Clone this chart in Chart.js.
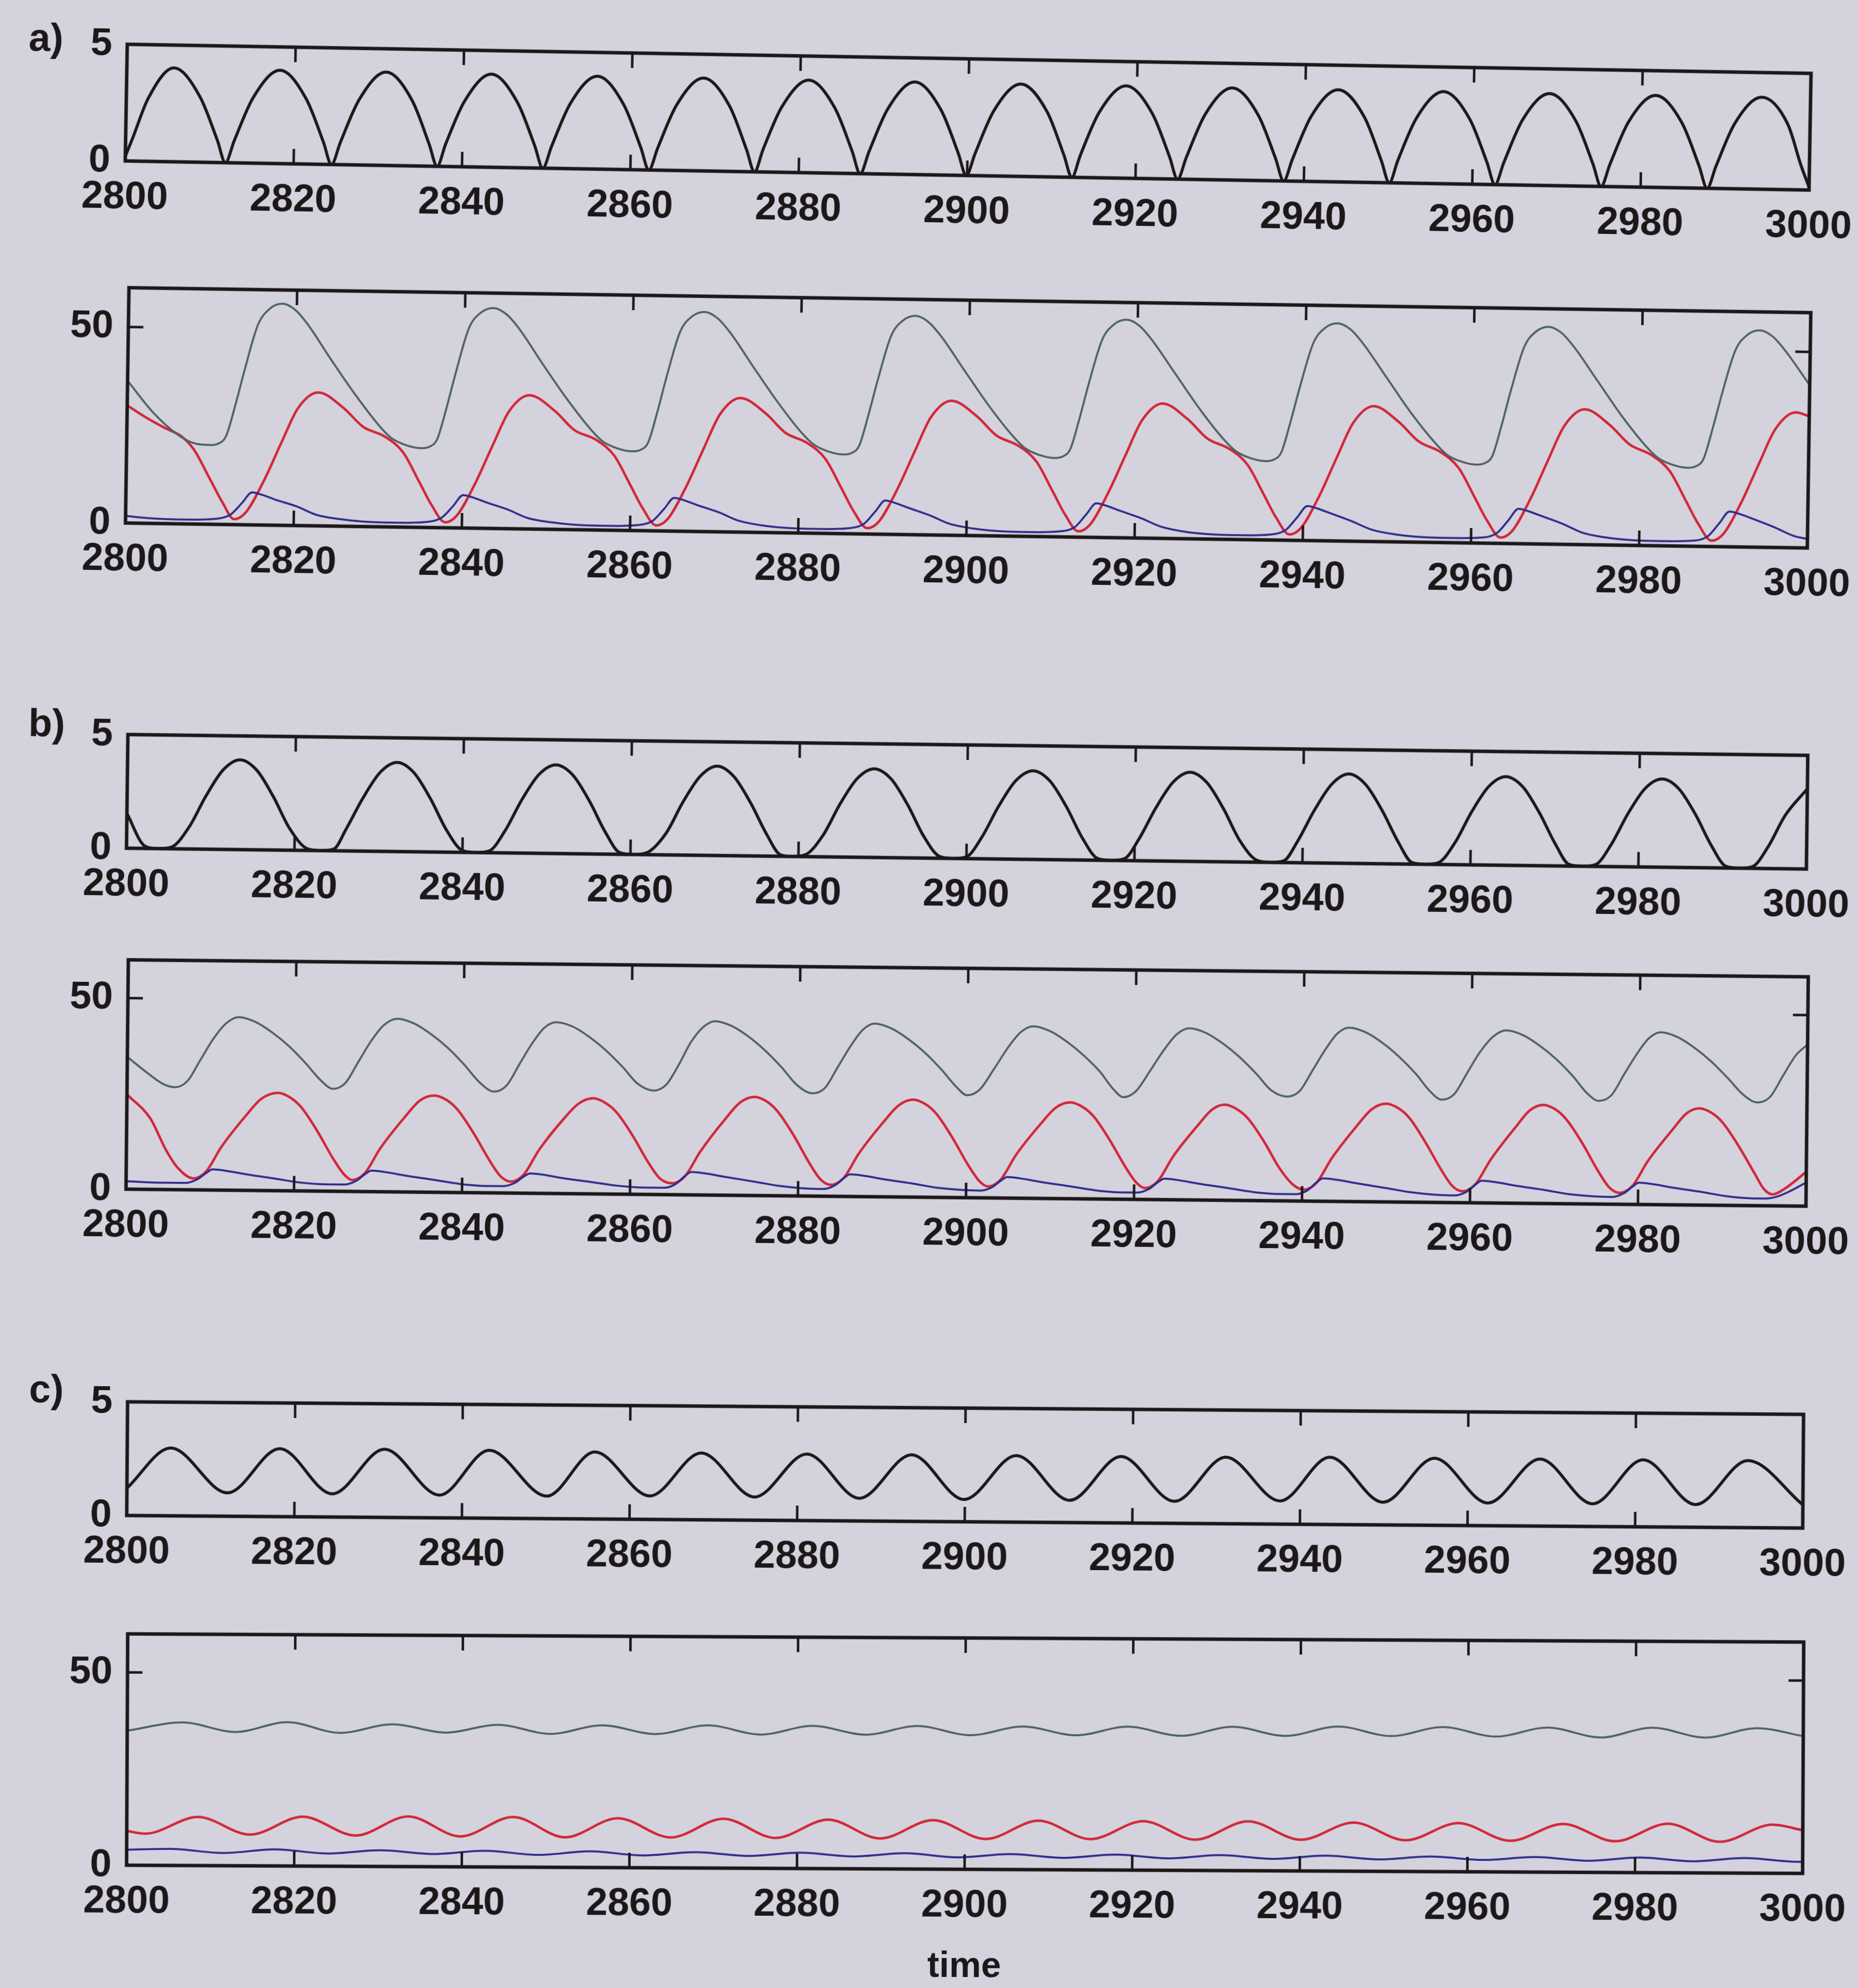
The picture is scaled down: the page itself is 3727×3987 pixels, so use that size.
<!DOCTYPE html>
<html>
<head>
<meta charset="utf-8">
<script src="https://cdn.jsdelivr.net/npm/chart.js@4.4.1/dist/chart.umd.min.js"></script>
<style>
  html, body { margin: 0; padding: 0; width: 3727px; height: 3987px; overflow: hidden; background: #d4d3dd; }
  canvas.panel { position: absolute; }
</style>
</head>
<body>
<script>
// ---- time axis and tick labels ----
const timeTicks = [2800, 2820, 2840, 2860, 2880, 2900, 2920, 2940, 2960, 2980, 3000];
const smallTicks = [0, 5];
const largeTicks = [0, 50];

// ---- a) upper trace ----
const a1Black = [
[2800,0.2],[2800.8,0.95],[2802.6,2.7],[2805.6,4.02],[2808.75,2.8],[2810.9,0.95],[2811.9,0],
[2812.9,0.95],[2815.05,2.8],[2818.2,4.0],[2821.35,2.8],[2823.5,0.95],[2824.5,0],
[2825.5,0.95],[2827.65,2.8],[2830.8,4.0],[2833.95,2.8],[2836.05,0.95],[2837.05,0],
[2838.0,0.95],[2840.15,2.8],[2843.3,3.99],[2846.45,2.8],[2848.6,0.95],[2849.6,0],
[2850.6,0.95],[2852.75,2.8],[2855.9,3.98],[2859.05,2.8],[2861.2,0.95],[2862.2,0],
[2863.2,0.95],[2865.35,2.8],[2868.5,3.98],[2871.65,2.8],[2873.75,0.95],[2874.75,0],
[2875.7,0.95],[2877.85,2.8],[2881.0,3.97],[2884.15,2.8],[2886.3,0.95],[2887.3,0],
[2888.3,0.95],[2890.45,2.8],[2893.6,3.97],[2896.75,2.8],[2898.9,0.95],[2899.9,0],
[2900.9,0.95],[2903.05,2.8],[2906.2,3.96],[2909.35,2.8],[2911.45,0.95],[2912.45,0],
[2913.4,0.95],[2915.55,2.8],[2918.7,3.96],[2921.85,2.8],[2924.0,0.95],[2925.0,0],
[2926.0,0.95],[2928.15,2.8],[2931.3,3.95],[2934.45,2.8],[2936.6,0.95],[2937.6,0],
[2938.6,0.95],[2940.75,2.8],[2943.9,3.95],[2947.05,2.8],[2949.15,0.95],[2950.15,0],
[2951.1,0.95],[2953.25,2.8],[2956.4,3.95],[2959.55,2.8],[2961.7,0.95],[2962.7,0],
[2963.7,0.95],[2965.85,2.8],[2969.0,3.94],[2972.15,2.8],[2974.3,0.95],[2975.3,0],
[2976.3,0.95],[2978.45,2.8],[2981.6,3.94],[2984.75,2.8],[2986.9,0.95],[2987.9,0],
[2988.9,0.95],[2991.05,2.8],[2994.2,3.94],[2997.35,2.8],[2999.0,1.05],[3000,0.12]
];

// ---- a) lower traces ----
const a2Gray = [
[2800,36.3],[2803.0,28.5],[2806.0,22.8],[2808.0,20.6],[2809.9,20.2],
[2810.9,20.6],[2811.8,22.5],[2812.8,30.0],[2813.9,39.5],[2815.4,51.0],[2816.8,55.2],[2818.3,56.5],[2819.8,55.0],[2821.3,51.4],[2824.2,42.3],[2827.2,33.3],[2830.1,25.5],[2831.5,22.6],[2833.1,21.0],[2835.0,20.2],
[2836.0,20.6],[2836.9,22.5],[2837.9,30.0],[2839.0,39.5],[2840.5,51.0],[2841.9,55.0],[2843.4,56.2],[2844.9,54.7],[2846.4,51.2],[2849.3,42.2],[2852.3,33.2],[2855.2,25.5],[2856.6,22.6],[2858.2,21.0],[2860.1,20.2],
[2861.1,20.6],[2862.0,22.5],[2863.0,30.0],[2864.1,39.5],[2865.6,50.8],[2867.0,54.8],[2868.5,56.0],[2870.0,54.5],[2871.5,51.0],[2874.4,42.1],[2877.4,33.1],[2880.3,25.4],[2881.7,22.6],[2883.3,21.0],[2885.2,20.2],
[2886.2,20.6],[2887.1,22.5],[2888.1,30.0],[2889.2,39.4],[2890.7,50.6],[2892.1,54.6],[2893.6,55.8],[2895.1,54.3],[2896.6,50.8],[2899.5,42.0],[2902.5,33.0],[2905.4,25.4],[2906.8,22.5],[2908.4,20.9],[2910.3,20.1],
[2911.3,20.5],[2912.2,22.4],[2913.2,29.9],[2914.3,39.3],[2915.8,50.4],[2917.2,54.4],[2918.7,55.6],[2920.2,54.1],[2921.7,50.6],[2924.6,41.9],[2927.6,32.9],[2930.5,25.3],[2931.9,22.5],[2933.5,20.9],[2935.4,20.1],
[2936.4,20.5],[2937.3,22.4],[2938.3,29.9],[2939.4,39.2],[2940.9,50.3],[2942.3,54.3],[2943.8,55.5],[2945.3,54.0],[2946.8,50.5],[2949.7,41.8],[2952.7,32.8],[2955.6,25.3],[2957.0,22.4],[2958.6,20.8],[2960.5,20.0],
[2961.5,20.4],[2962.4,22.3],[2963.4,29.8],[2964.5,39.2],[2966.0,50.2],[2967.4,54.2],[2968.9,55.4],[2970.4,53.9],[2971.9,50.4],[2974.8,41.7],[2977.8,32.7],[2980.7,25.2],[2982.1,22.4],[2983.7,20.8],[2985.6,20.0],
[2986.6,20.4],[2987.5,22.3],[2988.5,29.8],[2989.6,39.1],[2991.1,50.1],[2992.5,54.1],[2994.0,55.3],[2995.5,53.8],[2997.0,50.3],[3000,41.5]
];
const a2Red = [
[2800,30.0],[2802.4,26.8],[2804.6,24.3],[2806.5,22.3],[2808.0,19.0],[2810.0,11.4],[2811.5,5.6],[2812.9,1.4],
[2814.3,3.2],[2816.4,11.4],[2818.4,21.1],[2820.3,29.9],[2822.7,34.0],[2825.7,30.2],[2828.1,25.4],[2830.7,23.0],[2832.9,19.0],[2834.9,11.4],[2836.4,5.6],[2838.0,1.4],
[2839.4,3.2],[2841.5,11.4],[2843.5,21.1],[2845.4,29.9],[2847.8,34.1],[2850.8,30.3],[2853.2,25.4],[2855.8,23.0],[2858.0,19.0],[2860.0,11.4],[2861.5,5.6],[2863.1,1.4],
[2864.5,3.2],[2866.6,11.4],[2868.6,21.1],[2870.5,30.0],[2872.9,34.2],[2875.9,30.4],[2878.3,25.5],[2880.9,23.0],[2883.1,19.0],[2885.1,11.4],[2886.6,5.6],[2888.2,1.5],
[2889.6,3.3],[2891.7,11.5],[2893.7,21.2],[2895.6,30.1],[2898.0,34.3],[2901.0,30.5],[2903.4,25.6],[2906.0,23.1],[2908.2,19.1],[2910.2,11.5],[2911.7,5.7],[2913.3,1.5],
[2914.7,3.3],[2916.8,11.5],[2918.8,21.2],[2920.7,30.1],[2923.1,34.4],[2926.1,30.5],[2928.5,25.6],[2931.1,23.1],[2933.3,19.1],[2935.3,11.5],[2936.8,5.7],[2938.4,1.5],
[2939.8,3.3],[2941.9,11.5],[2943.9,21.3],[2945.8,30.2],[2948.2,34.5],[2951.2,30.6],[2953.6,25.7],[2956.2,23.1],[2958.4,19.1],[2960.4,11.5],[2961.9,5.7],[2963.5,1.5],
[2964.9,3.3],[2967.0,11.5],[2969.0,21.3],[2970.9,30.2],[2973.3,34.5],[2976.3,30.6],[2978.7,25.7],[2981.3,23.1],[2983.5,19.1],[2985.5,11.5],[2987.0,5.7],[2988.6,1.5],
[2990.0,3.3],[2992.1,11.5],[2994.1,21.3],[2996.0,30.2],[2998.4,34.5],[3000,33.6]
];
const a2Blue = [
[2800,1.8],[2803.0,1.3],[2807.0,1.1],[2811.0,1.5],[2812.5,2.6],[2813.8,5.5],[2815.0,8.3],[2816.2,7.7],[2817.8,6.5],[2820.3,4.9],[2822.7,2.8],[2825.5,1.8],[2828.0,1.3],[2832.0,1.1],
[2836.1,1.5],[2837.6,2.6],[2838.9,5.5],[2840.1,8.4],[2841.3,7.8],[2842.9,6.6],[2845.4,4.9],[2847.8,2.8],[2850.6,1.8],[2853.1,1.3],[2857.1,1.1],
[2861.2,1.5],[2862.7,2.6],[2864.0,5.6],[2865.2,8.5],[2866.4,7.9],[2868.0,6.7],[2870.5,5.0],[2872.9,2.9],[2875.7,1.8],[2878.2,1.3],[2882.2,1.1],
[2886.3,1.5],[2887.8,2.6],[2889.1,5.7],[2890.3,8.6],[2891.5,8.0],[2893.1,6.8],[2895.6,5.0],[2898.0,2.9],[2900.8,1.8],[2903.3,1.3],[2907.3,1.1],
[2911.4,1.5],[2912.9,2.6],[2914.2,5.8],[2915.4,8.7],[2916.6,8.1],[2918.2,6.9],[2920.7,5.1],[2923.1,3.0],[2925.9,1.8],[2928.4,1.3],[2932.4,1.1],
[2936.5,1.5],[2938.0,2.7],[2939.3,5.9],[2940.5,8.8],[2941.7,8.2],[2943.3,7.0],[2945.8,5.1],[2948.2,3.0],[2951.0,1.9],[2953.5,1.4],[2957.5,1.2],
[2961.6,1.5],[2963.1,2.7],[2964.4,5.9],[2965.6,8.9],[2966.8,8.3],[2968.4,7.1],[2970.9,5.2],[2973.3,3.0],[2976.1,1.9],[2978.6,1.4],[2982.6,1.2],
[2986.7,1.5],[2988.2,2.7],[2989.5,6.0],[2990.7,9.0],[2991.9,8.4],[2993.5,7.2],[2996.0,5.2],[2998.4,3.0],[3000,2.3]
];

// ---- b) upper trace ----
const b1Black = [
[2800,1.53],[2802.2,0.1],[2803.8,0],
[2805.4,0.08],[2807.4,0.95],[2809.4,2.35],[2811.4,3.5],[2813.4,3.95],[2815.4,3.5],[2817.4,2.35],[2819.4,0.95],[2821.5,0.08],[2823.1,0],
[2824.7,0.08],[2826.1,0.95],[2828.1,2.35],[2830.1,3.48],[2832.1,3.92],[2834.1,3.48],[2836.1,2.35],[2838.1,0.95],[2840.0,0.08],[2841.6,0],
[2843.2,0.08],[2845.0,0.95],[2847.0,2.35],[2849.0,3.47],[2851.0,3.9],[2853.0,3.47],[2855.0,2.35],[2857.0,0.95],[2858.7,0.08],[2860.3,0],
[2861.9,0.08],[2864.2,0.95],[2866.2,2.35],[2868.2,3.48],[2870.2,3.93],[2872.2,3.48],[2874.2,2.35],[2876.2,0.95],[2877.8,0.08],[2879.2,0],
[2880.8,0.08],[2882.9,0.95],[2884.9,2.35],[2886.9,3.47],[2888.9,3.9],[2890.9,3.47],[2892.9,2.35],[2894.9,0.95],[2896.8,0.08],[2898.4,0],
[2900.0,0.08],[2901.8,0.95],[2903.8,2.35],[2905.8,3.47],[2907.8,3.9],[2909.8,3.47],[2911.8,2.35],[2913.8,0.95],[2915.6,0.08],[2917.2,0],
[2918.8,0.08],[2920.5,0.95],[2922.5,2.35],[2924.5,3.48],[2926.5,3.92],[2928.5,3.48],[2930.5,2.35],[2932.5,0.95],[2934.6,0.08],[2936.2,0],
[2937.8,0.08],[2939.4,0.95],[2941.4,2.35],[2943.4,3.48],[2945.4,3.93],[2947.4,3.48],[2949.4,2.35],[2951.4,0.95],[2953.0,0.08],[2954.6,0],
[2956.2,0.08],[2958.1,0.95],[2960.1,2.35],[2962.1,3.47],[2964.1,3.9],[2966.1,3.47],[2968.1,2.35],[2970.1,0.95],[2971.7,0.08],[2973.3,0],
[2974.9,0.08],[2976.7,0.95],[2978.7,2.35],[2980.7,3.46],[2982.7,3.88],[2984.7,3.46],[2986.7,2.35],[2988.7,0.95],[2990.4,0.08],[2992.0,0],
[2993.6,0.08],[2995.4,0.95],[2997.4,2.35],[3000,3.53]
];

// ---- b) lower traces ----
const b2Gray = [
[2800,34.6],[2802.5,30.3],[2804.3,27.6],[2805.7,26.8],
[2807.2,28.5],[2808.7,34.0],[2810.2,39.5],[2811.7,43.6],[2813.2,45.3],[2815.2,44.1],[2817.2,41.4],[2819.2,37.9],[2821.2,33.5],[2823.0,29.1],[2824.5,26.8],
[2826.0,28.4],[2827.5,33.9],[2829.0,39.4],[2830.5,43.6],[2832.1,45.3],[2834.1,44.1],[2836.1,41.4],[2838.1,37.9],[2840.1,33.5],[2841.9,29.0],[2843.7,26.5],
[2845.2,28.2],[2846.7,33.8],[2848.2,39.3],[2849.6,43.3],[2851.0,44.8],[2853.0,43.7],[2855.0,41.0],[2857.0,37.5],[2859.0,33.2],[2860.8,28.9],[2862.7,27.2],
[2864.2,28.8],[2865.7,34.2],[2867.0,39.7],[2868.5,43.9],[2869.9,45.5],[2871.9,44.3],[2873.9,41.6],[2875.9,38.0],[2877.9,33.6],[2879.7,29.1],[2881.6,26.9],
[2883.1,28.4],[2884.6,33.9],[2886.1,39.4],[2887.5,43.6],[2888.9,45.3],[2890.9,44.1],[2892.9,41.4],[2894.9,37.9],[2896.9,33.5],[2898.7,29.0],[2900.0,26.8],
[2901.5,28.3],[2903.2,33.8],[2904.8,39.3],[2906.3,43.4],[2907.8,45.0],[2909.8,43.8],[2911.8,41.1],[2913.8,37.6],[2915.8,33.3],[2917.4,28.8],[2918.6,26.7],
[2920.1,28.3],[2921.8,33.8],[2923.4,39.2],[2924.9,43.3],[2926.4,44.9],[2928.4,43.7],[2930.4,41.0],[2932.4,37.5],[2934.4,33.2],[2936.2,28.9],[2938.1,27.3],
[2939.6,28.8],[2941.1,34.2],[2942.6,39.7],[2944.0,43.9],[2945.4,45.5],[2947.4,44.3],[2949.4,41.6],[2951.4,38.0],[2953.4,33.6],[2955.1,29.1],[2956.5,26.9],
[2958.0,28.4],[2959.5,33.9],[2961.0,39.4],[2962.6,43.6],[2964.1,45.2],[2966.1,44.0],[2968.1,41.3],[2970.1,37.8],[2972.1,33.4],[2973.8,29.0],[2975.2,27.0],
[2976.7,28.5],[2978.2,34.0],[2979.7,39.4],[2981.1,43.5],[2982.5,45.1],[2984.5,43.9],[2986.5,41.2],[2988.5,37.7],[2990.5,33.4],[2992.4,29.0],[2994.1,27.0],
[2995.6,28.5],[2997.1,34.0],[2998.6,39.4],[3000,42.3]
];
const b2Red = [
[2800,24.8],[2802.8,18.6],[2804.7,10.4],[2806.1,5.8],[2808.0,3.0],
[2809.5,4.8],[2811.3,11.3],[2814.2,19.6],[2816.0,24.0],[2818.0,25.6],[2819.5,24.3],[2820.8,21.8],[2822.7,15.7],[2824.6,8.6],[2826.0,4.3],[2826.9,3.0],
[2828.4,4.8],[2830.2,11.3],[2833.1,19.6],[2834.9,24.0],[2836.6,25.3],[2838.1,24.1],[2839.4,21.6],[2841.3,15.6],[2843.2,8.6],[2844.6,4.3],[2845.8,3.0],
[2847.3,4.8],[2849.1,11.3],[2852.0,19.5],[2853.8,23.6],[2855.5,25.0],[2857.0,23.8],[2858.3,21.4],[2860.2,15.5],[2862.1,8.5],[2863.5,4.3],[2865.0,3.0],
[2866.5,4.8],[2868.3,11.3],[2871.2,19.8],[2873.0,24.3],[2874.7,25.8],[2876.2,24.6],[2877.5,22.0],[2879.4,15.9],[2881.3,8.7],[2882.7,4.3],[2883.9,3.0],
[2885.4,4.8],[2887.2,11.3],[2890.1,19.6],[2891.9,24.0],[2893.6,25.5],[2895.1,24.3],[2896.4,21.8],[2898.3,15.7],[2900.2,8.6],[2901.6,4.3],[2902.6,3.0],
[2904.1,4.8],[2905.9,11.3],[2908.8,19.5],[2910.6,23.8],[2912.3,25.2],[2913.8,24.0],[2915.1,21.6],[2917.0,15.6],[2918.9,8.6],[2920.3,4.3],[2921.3,3.0],
[2922.8,4.8],[2924.6,11.3],[2927.5,19.5],[2929.2,23.7],[2930.7,25.0],[2932.2,23.8],[2933.5,21.4],[2935.4,15.5],[2937.3,8.5],[2938.9,4.3],[2940.2,3.0],
[2941.7,4.8],[2943.5,11.3],[2946.4,19.7],[2948.2,24.2],[2949.9,25.7],[2951.4,24.5],[2952.7,22.0],[2954.6,15.8],[2956.5,8.7],[2957.9,4.3],[2959.1,3.0],
[2960.6,4.8],[2962.4,11.3],[2965.3,19.8],[2967.0,24.3],[2968.6,25.8],[2970.1,24.6],[2971.4,22.0],[2973.3,15.9],[2975.2,8.7],[2976.6,4.3],[2977.8,3.0],
[2979.3,4.8],[2981.1,11.3],[2984.0,19.6],[2985.7,24.0],[2987.2,25.3],[2988.7,24.1],[2990.0,21.6],[2991.9,15.6],[2993.8,8.6],[2995.0,4.3],[2996.0,3.0],
[2997.5,4.6],[3000,9.0]
];
const b2Blue = [
[2800,2.1],[2803.5,1.8],[2807.1,1.8],[2808.5,2.8],[2809.5,4.4],[2810.3,5.4],[2811.8,5.1],[2814.3,4.2],[2817.9,3.1],[2820.7,2.2],[2823.8,1.8],[2826.0,1.8],
[2827.4,2.8],[2828.4,4.5],[2829.2,5.5],[2830.7,5.2],[2833.2,4.3],[2836.8,3.2],[2839.6,2.3],[2842.7,1.8],[2844.9,1.8],
[2846.3,2.7],[2847.3,4.3],[2848.1,5.2],[2849.6,4.9],[2852.1,4.0],[2855.7,3.0],[2858.5,2.2],[2861.6,1.8],[2864.1,1.8],
[2865.5,2.9],[2866.5,4.9],[2867.3,6.0],[2868.8,5.7],[2871.3,4.8],[2874.9,3.6],[2877.7,2.6],[2880.8,2.0],[2883.0,1.9],
[2884.4,2.9],[2885.4,4.7],[2886.2,5.8],[2887.7,5.5],[2890.2,4.6],[2893.8,3.5],[2896.6,2.5],[2899.7,2.0],[2901.7,1.9],
[2903.1,2.8],[2904.1,4.5],[2904.9,5.5],[2906.4,5.2],[2908.9,4.3],[2912.5,3.2],[2915.3,2.3],[2918.4,1.8],[2920.4,1.8],
[2921.8,2.8],[2922.8,4.5],[2923.6,5.5],[2925.1,5.2],[2927.6,4.3],[2931.2,3.2],[2934.0,2.3],[2937.1,1.8],[2939.3,1.8],
[2940.7,2.9],[2941.7,4.9],[2942.5,6.0],[2944.0,5.7],[2946.5,4.8],[2950.1,3.6],[2952.9,2.6],[2956.0,2.0],[2958.2,1.9],
[2959.6,2.9],[2960.6,4.7],[2961.4,5.8],[2962.9,5.5],[2965.4,4.6],[2969.0,3.5],[2971.8,2.5],[2974.9,2.0],[2976.9,1.9],
[2978.3,2.9],[2979.3,4.6],[2980.1,5.7],[2981.6,5.4],[2984.1,4.5],[2987.7,3.4],[2990.5,2.4],[2993.6,1.9],[2995.1,1.9],
[2996.5,2.4],[2998.0,3.8],[3000,6.2]
];

// ---- c) upper trace (turning points) ----
const c1Black = [
[2800,1.2],[2805.2,2.98],[2812.0,1.03],[2818.2,2.99],[2824.5,1.02],[2830.7,3.0],[2837.3,1.0],[2843.2,2.99],
[2850.1,0.99],[2855.8,2.95],[2862.4,1.03],[2868.5,2.94],[2874.9,1.02],[2881.1,2.93],[2887.4,1.0],[2893.6,2.93],
[2899.9,0.98],[2906.1,2.93],[2912.5,0.98],[2918.6,2.92],[2925.0,0.97],[2931.1,2.93],[2937.6,1.02],[2943.5,2.96],
[2949.9,1.0],[2956.0,2.95],[2962.4,1.0],[2968.6,2.95],[2974.9,1.0],[2980.9,2.95],[2987.2,1.0],[2993.4,2.95],[3000,1.02]
];

// ---- c) lower traces (turning points) ----
const c2Gray = [
[2800,34.9],[2806.6,37.1],[2812.9,34.7],[2819.1,37.3],[2825.4,34.6],[2831.7,36.9],[2838.0,34.8],[2844.2,36.9],
[2850.5,34.6],[2856.7,36.9],[2863.0,34.7],[2869.3,37.0],[2875.6,34.7],[2881.8,37.0],[2888.1,34.8],[2894.3,37.1],
[2900.6,34.8],[2906.9,37.1],[2913.2,34.9],[2919.4,37.2],[2925.7,34.9],[2931.9,37.3],[2938.2,35.0],[2944.5,37.5],
[2950.8,35.1],[2957.0,37.5],[2963.3,35.1],[2969.5,37.5],[2975.8,35.0],[2982.0,37.6],[2988.3,35.1],[2994.5,37.6],[3000,35.6]
];
const c2Red = [
[2800,8.9],[2802.2,8.2],[2808.5,12.6],[2814.7,8.1],[2821.0,12.8],[2827.3,8.0],[2833.6,13.0],[2839.8,7.9],
[2846.1,13.0],[2852.3,7.8],[2858.6,12.8],[2864.9,7.9],[2871.2,12.8],[2877.4,7.9],[2883.7,12.7],[2889.9,7.9],
[2896.2,12.7],[2902.5,7.9],[2908.8,12.7],[2915.0,8.0],[2921.3,12.7],[2927.5,8.0],[2933.8,12.8],[2940.1,8.1],
[2946.4,12.6],[2952.6,8.1],[2958.9,12.6],[2965.1,8.1],[2971.4,12.5],[2977.6,8.1],[2983.9,12.7],[2990.1,8.1],[2996.4,12.6],[3000,11.2]
];
const c2Blue = [
[2800,4.0],[2805.2,4.3],[2811.5,3.3],[2817.7,4.3],[2824.0,3.3],[2830.3,4.2],[2836.6,3.3],[2842.8,4.2],
[2849.1,3.2],[2855.3,4.2],[2861.6,3.2],[2867.9,4.1],[2874.2,3.2],[2880.4,4.1],[2886.7,3.2],[2892.9,4.1],
[2899.2,3.1],[2905.5,4.0],[2911.8,3.1],[2918.0,4.0],[2924.3,3.1],[2930.5,4.0],[2936.8,3.1],[2943.1,4.0],
[2949.4,3.1],[2955.6,3.9],[2961.9,3.1],[2968.1,3.9],[2974.4,3.0],[2980.6,3.9],[2986.9,3.0],[2993.1,3.9],[2999.4,3.0],[3000,3.0]
];

// ---- styling ----
const INK = '#1c1719';
const FONT = '"Liberation Sans", Arial, Helvetica, sans-serif';
const LINE = {
  black: { color: '#1e1718', width: 6 },
  gray:  { color: '#4f625e', width: 4 },
  red:   { color: '#d12739', width: 5 },
  blue:  { color: '#2f2c8c', width: 4 }
};
const PAD_L = 250, PAD_R = 150, PAD_T = 100;

// frame geometry of each axes box: centre, size and slight tilt
const panels = [
  { tag: 'a)', cx: 1942, cy: 234.6,  w: 3378, h: 234, tilt: 0.99, yMax: 5,  yTicks: smallTicks, padB: 140, tagDy: -6,
    series: [[a1Black, LINE.black]] },
  { tag: null, cx: 1942, cy: 838,    w: 3374, h: 472, tilt: 0.85, yMax: 60, yTicks: largeTicks, padB: 140,
    series: [[a2Gray, LINE.gray], [a2Blue, LINE.blue], [a2Red, LINE.red]] },
  { tag: 'b)', cx: 1940, cy: 1607.5, w: 3370, h: 228, tilt: 0.71, yMax: 5,  yTicks: smallTicks, padB: 140, tagDy: -16,
    series: [[b1Black, LINE.black]] },
  { tag: null, cx: 1940, cy: 2172,   w: 3370, h: 460, tilt: 0.58, yMax: 60, yTicks: largeTicks, padB: 140,
    series: [[b2Gray, LINE.gray], [b2Blue, LINE.blue], [b2Red, LINE.red]] },
  { tag: 'c)', cx: 1936, cy: 2937.75, w: 3362, h: 228, tilt: 0.43, yMax: 5, yTicks: smallTicks, padB: 140, tagDy: -20,
    series: [[c1Black, LINE.black]] },
  { tag: null, cx: 1936, cy: 3517.25, w: 3362, h: 464, tilt: 0.28, yMax: 60, yTicks: largeTicks, padB: 260,
    title: 'time', series: [[c2Gray, LINE.gray], [c2Blue, LINE.blue], [c2Red, LINE.red]] }
];

// box frame, inward ticks on all four sides, panel tag
const framePlugin = {
  id: 'frame',
  afterDatasetsDraw(chart, args, opts) {
    const { ctx, chartArea: a } = chart;
    const xs = chart.scales.x, ys = chart.scales.y;
    const L = 30;
    ctx.save();
    ctx.strokeStyle = INK;
    ctx.lineCap = 'butt';
    ctx.lineWidth = 5;
    ctx.beginPath();
    xs.ticks.forEach(t => {
      const px = xs.getPixelForValue(t.value);
      ctx.moveTo(px, a.bottom); ctx.lineTo(px, a.bottom - L);
      ctx.moveTo(px, a.top);    ctx.lineTo(px, a.top + L);
    });
    ys.ticks.forEach(t => {
      const py = ys.getPixelForValue(t.value);
      ctx.moveTo(a.left, py);  ctx.lineTo(a.left + L, py);
      ctx.moveTo(a.right, py); ctx.lineTo(a.right - L, py);
    });
    ctx.stroke();
    ctx.lineWidth = 7;
    ctx.strokeRect(a.left, a.top, a.right - a.left, a.bottom - a.top);
    if (opts.tag) {
      ctx.fillStyle = INK;
      ctx.font = 'bold 78px ' + FONT;
      ctx.textAlign = 'center';
      ctx.textBaseline = 'middle';
      ctx.fillText(opts.tag, a.left - 163, a.top + opts.dy);
    }
    ctx.restore();
  }
};

const tickFont = { family: FONT, size: 78, weight: 'bold' };

panels.forEach(p => {
  const cw = Math.round(p.w + PAD_L + PAD_R);
  const ch = Math.round(p.h + PAD_T + p.padB);
  const canvas = document.createElement('canvas');
  canvas.className = 'panel';
  canvas.width = cw;
  canvas.height = ch;
  canvas.style.width = cw + 'px';
  canvas.style.height = ch + 'px';
  canvas.style.left = (p.cx - p.w / 2 - PAD_L) + 'px';
  canvas.style.top = (p.cy - p.h / 2 - PAD_T) + 'px';
  canvas.style.transformOrigin = (PAD_L + p.w / 2) + 'px ' + (PAD_T + p.h / 2) + 'px';
  canvas.style.transform = 'rotate(' + p.tilt + 'deg)';
  document.body.appendChild(canvas);

  new Chart(canvas, {
    type: 'line',
    data: {
      datasets: p.series.map(([pts, st]) => ({
        data: pts.map(([x, y]) => ({ x, y })),
        borderColor: st.color,
        borderWidth: st.width,
        pointRadius: 0,
        fill: false,
        cubicInterpolationMode: 'monotone'
      }))
    },
    options: {
      responsive: false,
      animation: false,
      devicePixelRatio: 1,
      events: [],
      layout: { padding: { left: 0, right: PAD_R, top: PAD_T, bottom: 0 } },
      plugins: {
        legend: { display: false },
        tooltip: { enabled: false },
        frame: { tag: p.tag, dy: p.tagDy || 0 }
      },
      scales: {
        x: {
          type: 'linear', position: 'bottom', min: 2800, max: 3000,
          afterBuildTicks: s => { s.ticks = timeTicks.map(v => ({ value: v })); },
          afterFit: s => { s.height = p.padB; },
          grid: { display: false, drawTicks: false, tickLength: 0 },
          border: { display: false },
          ticks: { padding: 27, font: tickFont, color: INK, maxRotation: 0, minRotation: 0,
                   autoSkip: false, callback: v => String(v) },
          title: p.title
            ? { display: true, text: p.title, color: INK,
                font: { family: FONT, size: 72, weight: 'bold' }, padding: { top: 0, bottom: 21 } }
            : { display: false }
        },
        y: {
          type: 'linear', min: 0, max: p.yMax,
          afterBuildTicks: s => { s.ticks = p.yTicks.map(v => ({ value: v })); },
          afterFit: s => { s.width = PAD_L; },
          grid: { display: false, drawTicks: false, tickLength: 0 },
          border: { display: false },
          ticks: { padding: 30, font: tickFont, color: INK, callback: v => String(v) }
        }
      }
    },
    plugins: [framePlugin]
  });
});
</script>
</body>
</html>
